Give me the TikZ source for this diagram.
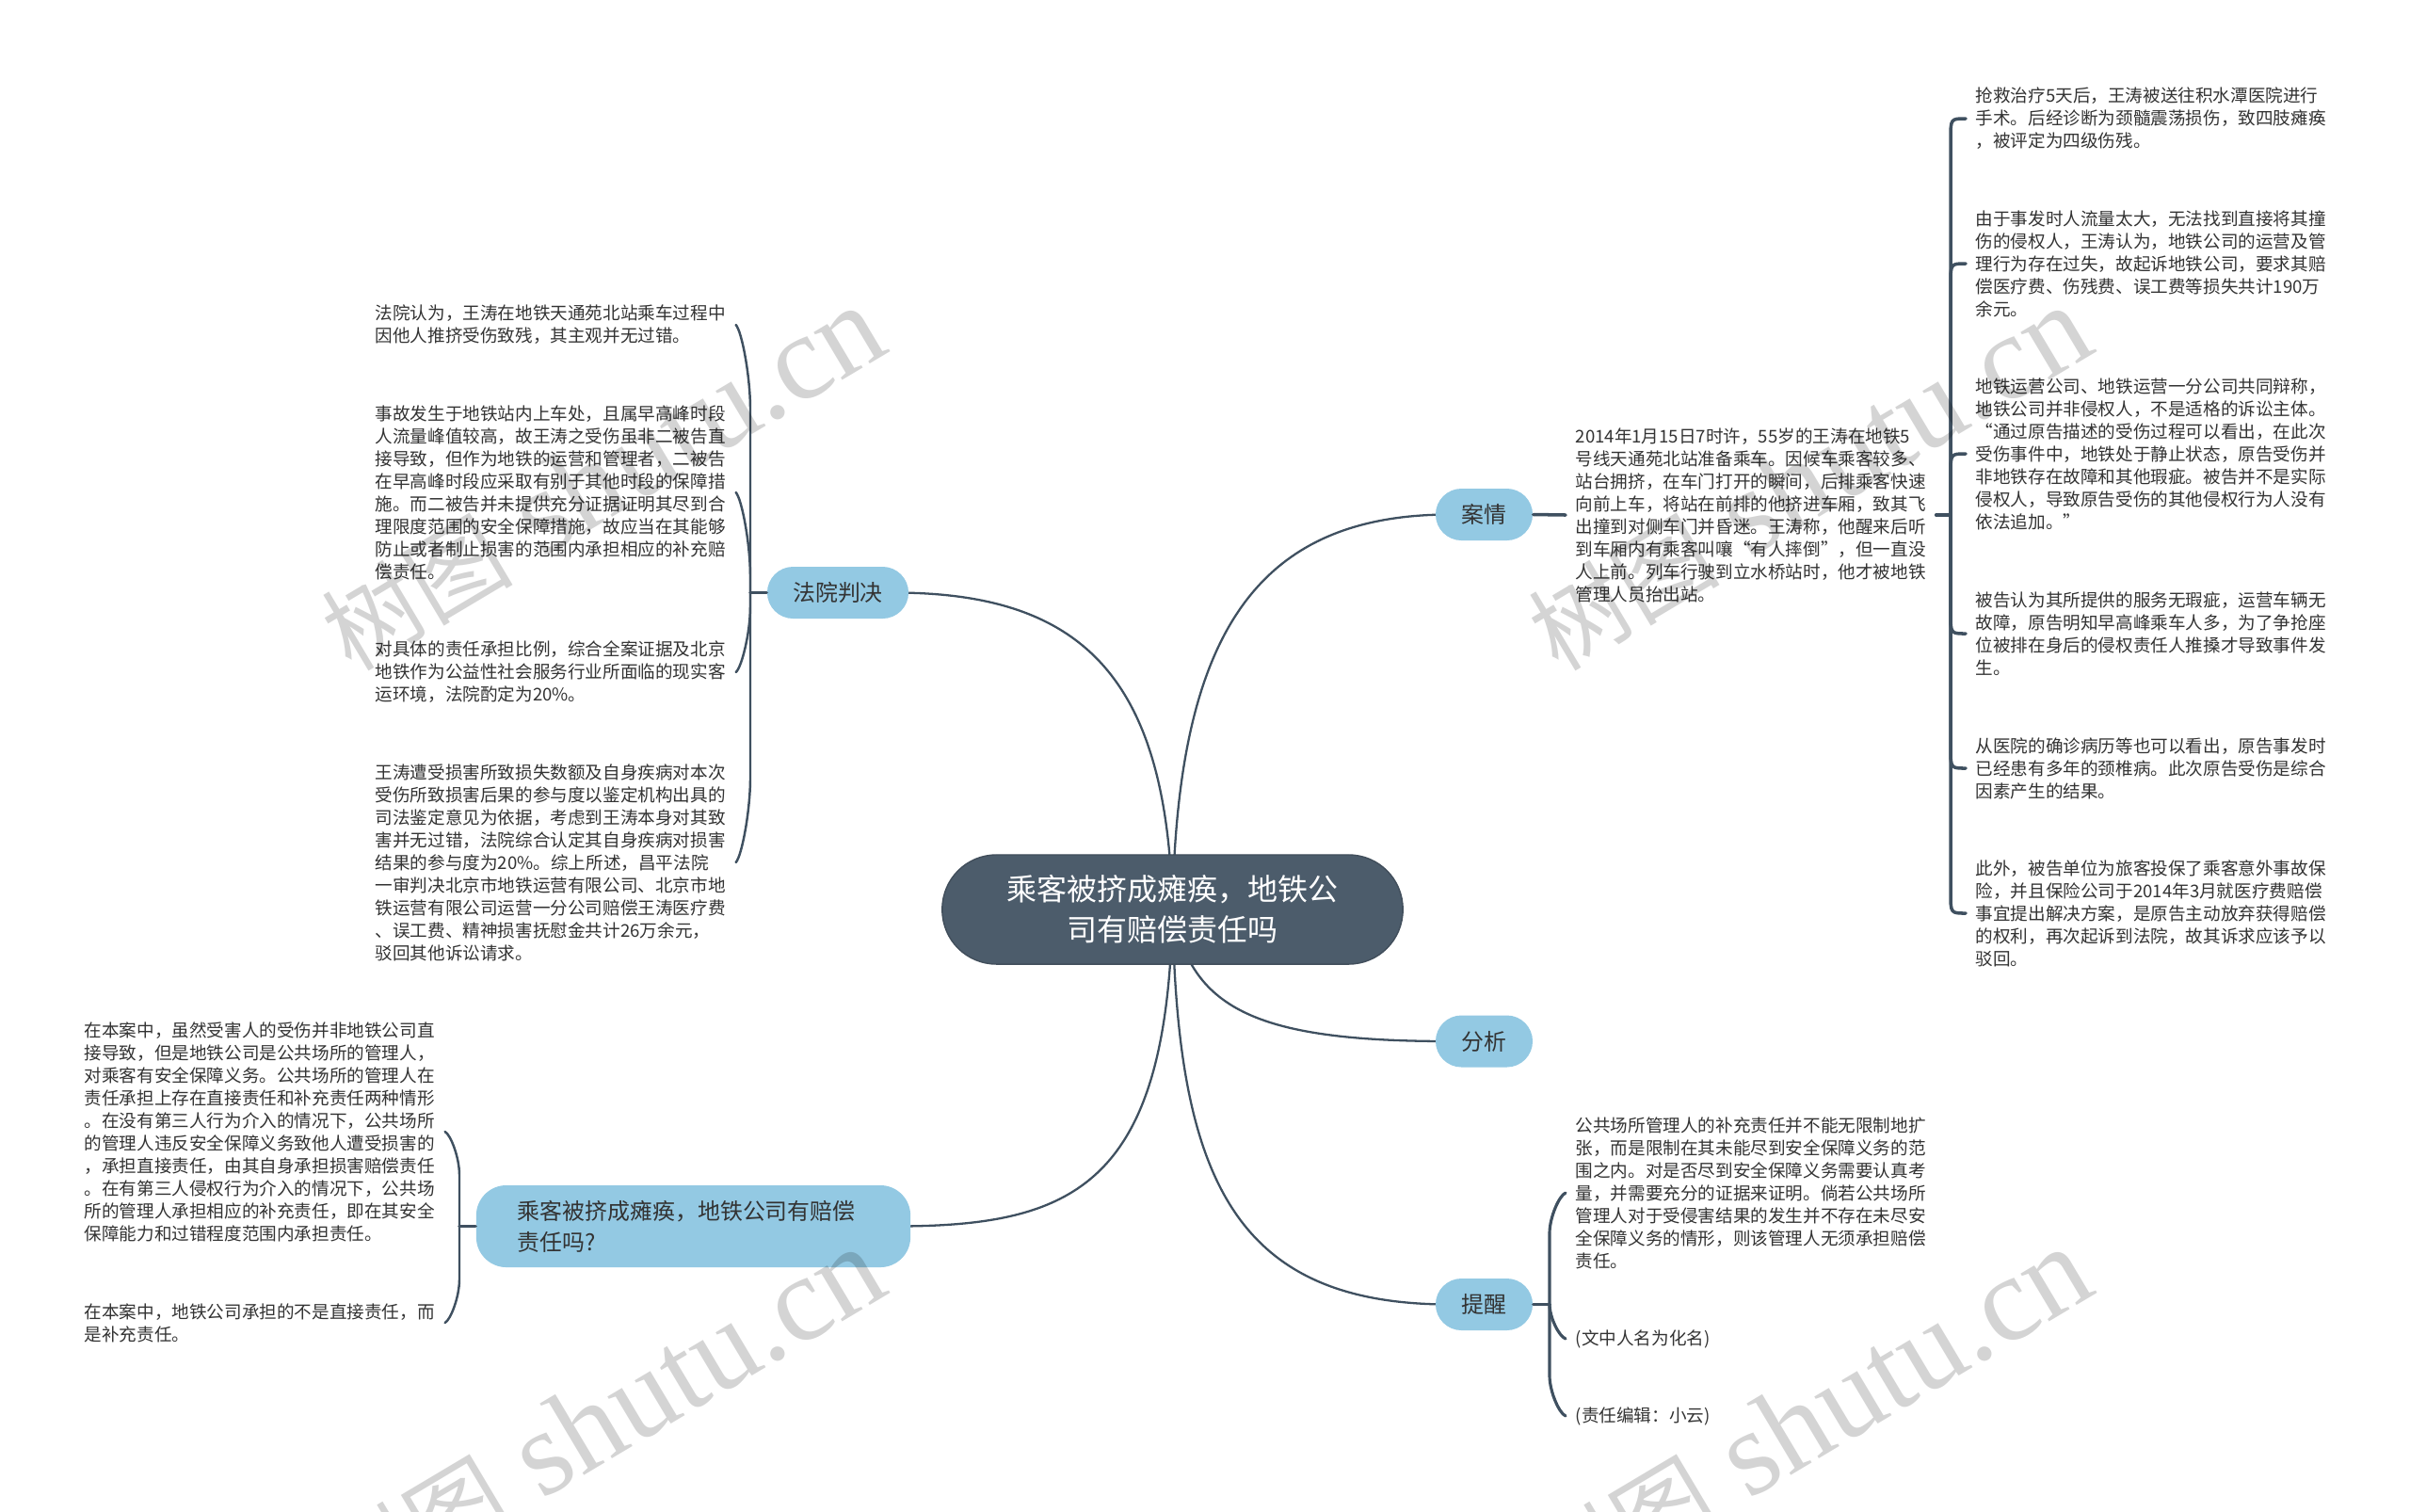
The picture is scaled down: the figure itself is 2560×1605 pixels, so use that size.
\documentclass[tikz,border=0pt]{standalone}
\usepackage{fontspec}
\setmainfont{Noto Sans CJK SC}
\newfontfamily\wmfont{Liberation Serif}
\usetikzlibrary{calc}
\definecolor{linecol}{HTML}{3F5060}
\definecolor{rootcol}{HTML}{4C5C6B}
\definecolor{bluecol}{HTML}{93C9E3}
\definecolor{textcol}{HTML}{333333}
\tikzset{
  rootbox/.style={fill=rootcol,draw=rootcol!85!black,line width=.4pt,rounded corners=.575cm,
    minimum width=4.89cm,minimum height=1.16cm,inner sep=0pt,align=center,text=white,
    font=\fontsize{9.1}{12.2}\selectfont},
  bluebox/.style={fill=bluecol,rounded corners=.275cm,minimum height=.55cm,inner sep=0pt,
    text=textcol,align=center,font=\fontsize{6.8}{9.4}\selectfont},
  leaftext/.style={anchor=west,text width=3.72cm,inner xsep=.1cm,inner ysep=0pt,align=left,
    text=textcol,font=\fontsize{5.29}{6.83}\selectfont},
  trunk/.style={draw=linecol,line width=.7pt,line cap=round},
  mainline/.style={draw=linecol,line width=.65pt},
  wmark/.style={anchor=base east,rotate=30.8,text=black,text opacity=.17,inner sep=0pt}
}
\begin{document}
\begin{tikzpicture}[x=.01cm,y=-.01cm]
  \path[use as bounding box,fill=white] (0,0) rectangle (2560,1605);
  %% curves from the middle, drawn first so the boxes sit on them
  \coordinate (rootmid) at (1245.5,966);
  \coordinate (anqingin) at (1540,546.5);
  \coordinate (fayuanin) at (950,629.5);
  \coordinate (fenxiin) at (1540,1106);
  \coordinate (tixingin) at (1540,1385.5);
  \coordinate (wentiin) at (950,1302.5);
  \draw[mainline] (rootmid) .. controls (1250,680) and (1330,546.5) .. (anqingin);
  \draw[mainline] (rootmid) .. controls (1240,720) and (1150,629.5) .. (fayuanin);
  \draw[mainline] (rootmid) .. controls (1265,1070) and (1330,1106) .. (fenxiin);
  \draw[mainline] (rootmid) .. controls (1250,1250) and (1310,1385.5) .. (tixingin);
  \draw[mainline] (rootmid) .. controls (1240,1260) and (1140,1302.5) .. (wentiin);
  %% middle
  \node[rootbox] (root) at (rootmid) {乘客被挤成瘫痪，地铁公\\司有赔偿责任吗};
  \node[bluebox,minimum width=1.03cm] (anqing) at (1576.5,546.5) {案情};
  \node[bluebox,minimum width=1.03cm] (fenxi) at (1576.5,1106) {分析};
  \node[bluebox,minimum width=1.03cm] (tixing) at (1576.5,1385.5) {提醒};
  \node[bluebox,minimum width=1.5cm] (fayuan) at (890,629.5) {法院判决};
  \node[bluebox,minimum width=4.61cm,minimum height=.87cm,rounded corners=.32cm,
    text width=3.73cm,align=left] (wenti) at (736.5,1302.5) {乘客被挤成瘫痪，地铁公司有赔偿\\责任吗?};
  %%
  \node[leaftext] (kt) at (1663,547) {2014年1月15日7时许，55岁的王涛在地铁5\\号线天通苑北站准备乘车。因候车乘客较多、\\站台拥挤，在车门打开的瞬间，后排乘客快速\\向前上车，将站在前排的他挤进车厢，致其飞\\出撞到对侧车门并昏迷。王涛称，他醒来后听\\到车厢内有乘客叫嚷“有人摔倒”，但一直没\\人上前。列车行驶到立水桥站时，他才被地铁\\管理人员抬出站。};
  %% right column
  \node[leaftext] (a1) at (2088,126) {抢救治疗5天后，王涛被送往积水潭医院进行\\手术。后经诊断为颈髓震荡损伤，致四肢瘫痪\\，被评定为四级伤残。};
  \node[leaftext] (a2) at (2088,280) {由于事发时人流量太大，无法找到直接将其撞\\伤的侵权人，王涛认为，地铁公司的运营及管\\理行为存在过失，故起诉地铁公司，要求其赔\\偿医疗费、伤残费、误工费等损失共计190万\\余元。};
  \node[leaftext] (a3) at (2088,482) {地铁运营公司、地铁运营一分公司共同辩称，\\地铁公司并非侵权人，不是适格的诉讼主体。\\“通过原告描述的受伤过程可以看出，在此次\\受伤事件中，地铁处于静止状态，原告受伤并\\非地铁存在故障和其他瑕疵。被告并不是实际\\侵权人，导致原告受伤的其他侵权行为人没有\\依法追加。”};
  \node[leaftext] (a4) at (2088,673) {被告认为其所提供的服务无瑕疵，运营车辆无\\故障，原告明知早高峰乘车人多，为了争抢座\\位被排在身后的侵权责任人推搡才导致事件发\\生。};
  \node[leaftext] (a5) at (2088,816) {从医院的确诊病历等也可以看出，原告事发时\\已经患有多年的颈椎病。此次原告受伤是综合\\因素产生的结果。};
  \node[leaftext] (a6) at (2088,970) {此外，被告单位为旅客投保了乘客意外事故保\\险，并且保险公司于2014年3月就医疗费赔偿\\事宜提出解决方案，是原告主动放弃获得赔偿\\的权利，再次起诉到法院，故其诉求应该予以\\驳回。};
  %% court column
  \node[leaftext] (b1) at (388,345) {法院认为，王涛在地铁天通苑北站乘车过程中\\因他人推挤受伤致残，其主观并无过错。};
  \node[leaftext] (b2) at (388,523) {事故发生于地铁站内上车处，且属早高峰时段\\人流量峰值较高，故王涛之受伤虽非二被告直\\接导致，但作为地铁的运营和管理者，二被告\\在早高峰时段应采取有别于其他时段的保障措\\施。而二被告并未提供充分证据证明其尽到合\\理限度范围的安全保障措施，故应当在其能够\\防止或者制止损害的范围内承担相应的补充赔\\偿责任。};
  \node[leaftext] (b3) at (388,714) {对具体的责任承担比例，综合全案证据及北京\\地铁作为公益性社会服务行业所面临的现实客\\运环境，法院酌定为20\%。};
  \node[leaftext] (b4) at (388,916) {王涛遭受损害所致损失数额及自身疾病对本次\\受伤所致损害后果的参与度以鉴定机构出具的\\司法鉴定意见为依据，考虑到王涛本身对其致\\害并无过错，法院综合认定其自身疾病对损害\\结果的参与度为20\%。综上所述，昌平法院\\一审判决北京市地铁运营有限公司、北京市地\\铁运营有限公司运营一分公司赔偿王涛医疗费\\、误工费、精神损害抚慰金共计26万余元，\\驳回其他诉讼请求。};
  %% question column
  \node[leaftext] (c1) at (79,1202) {在本案中，虽然受害人的受伤并非地铁公司直\\接导致，但是地铁公司是公共场所的管理人，\\对乘客有安全保障义务。公共场所的管理人在\\责任承担上存在直接责任和补充责任两种情形\\。在没有第三人行为介入的情况下，公共场所\\的管理人违反安全保障义务致他人遭受损害的\\，承担直接责任，由其自身承担损害赔偿责任\\。在有第三人侵权行为介入的情况下，公共场\\所的管理人承担相应的补充责任，即在其安全\\保障能力和过错程度范围内承担责任。};
  \node[leaftext] (c2) at (79,1405) {在本案中，地铁公司承担的不是直接责任，而\\是补充责任。};
  %% reminder column
  \node[leaftext] (d1) at (1663,1267) {公共场所管理人的补充责任并不能无限制地扩\\张，而是限制在其未能尽到安全保障义务的范\\围之内。对是否尽到安全保障义务需要认真考\\量，并需要充分的证据来证明。倘若公共场所\\管理人对于受侵害结果的发生并不存在未尽安\\全保障义务的情形，则该管理人无须承担赔偿\\责任。};
  \node[leaftext] (d2) at (1663,1422) {(文中人名为化名)};
  \node[leaftext] (d3) at (1663,1504) {(责任编辑：小云)};
  %% trees
  \coordinate (ahub) at (2072,547);
  \coordinate (bhub) at (797,629.5);
  \coordinate (chub) at (488,1302.5);
  \coordinate (dhub) at (1646,1385.5);
  \draw[trunk,line width=1pt] (anqing.east) -- (kt.west);
  \draw[trunk,line width=1pt] (kt.east) -- (ahub);
  \draw[trunk,line width=1pt] (bhub) -- (fayuan.west);
  \draw[trunk,line width=1pt] (chub) -- (wenti.west);
  \draw[trunk,line width=1pt] (dhub) -- (tixing.east);
  \foreach \leaf/\bend in {a1/22,a2/22,a3/22,a4/-22,a5/-22,a6/-22}
    \draw[trunk,line width=1pt] (ahub) -- ($(ahub|-\leaf.west)+(0,\bend)$) .. controls (ahub|-\leaf.west) .. (\leaf.west);
  \foreach \leaf/\bend in {b1/90,b2/90,b3/-70,b4/-90}
    \draw[trunk] (bhub) -- ($(bhub|-\leaf.east)+(0,\bend)$)
      .. controls ($(bhub|-\leaf.east)+(0,.6*\bend)$) and ($(\leaf.east)!.4!(bhub|-\leaf.east)+(0,.07*\bend)$) .. (\leaf.east);
  \foreach \leaf/\bend in {c1/46,c2/-46}
    \draw[trunk] (chub) -- ($(chub|-\leaf.east)+(0,\bend)$)
      .. controls ($(chub|-\leaf.east)+(0,.6*\bend)$) and ($(\leaf.east)!.4!(chub|-\leaf.east)+(0,.07*\bend)$) .. (\leaf.east);
  \foreach \leaf/\bend in {d1/43,d2/-37,d3/-43}
    \draw[trunk,line width=.9pt] (dhub) -- ($(dhub|-\leaf.west)+(0,\bend)$)
      .. controls ($(dhub|-\leaf.west)+(0,.6*\bend)$) and ($(\leaf.west)!.4!(dhub|-\leaf.west)+(0,.07*\bend)$) .. (\leaf.west);
  %% watermark
  \foreach \mx/\my/\mname in {948/372/wmone,2230/372/wmtwo,948/1372/wmthree,2230/1372/wmfour}
    \node[wmark] (\mname) at (\mx,\my) {\fontsize{29}{30}\selectfont 树图\wmfont\fontsize{36.6}{30}\selectfont{} shutu.cn};
\end{tikzpicture}
\end{document}
